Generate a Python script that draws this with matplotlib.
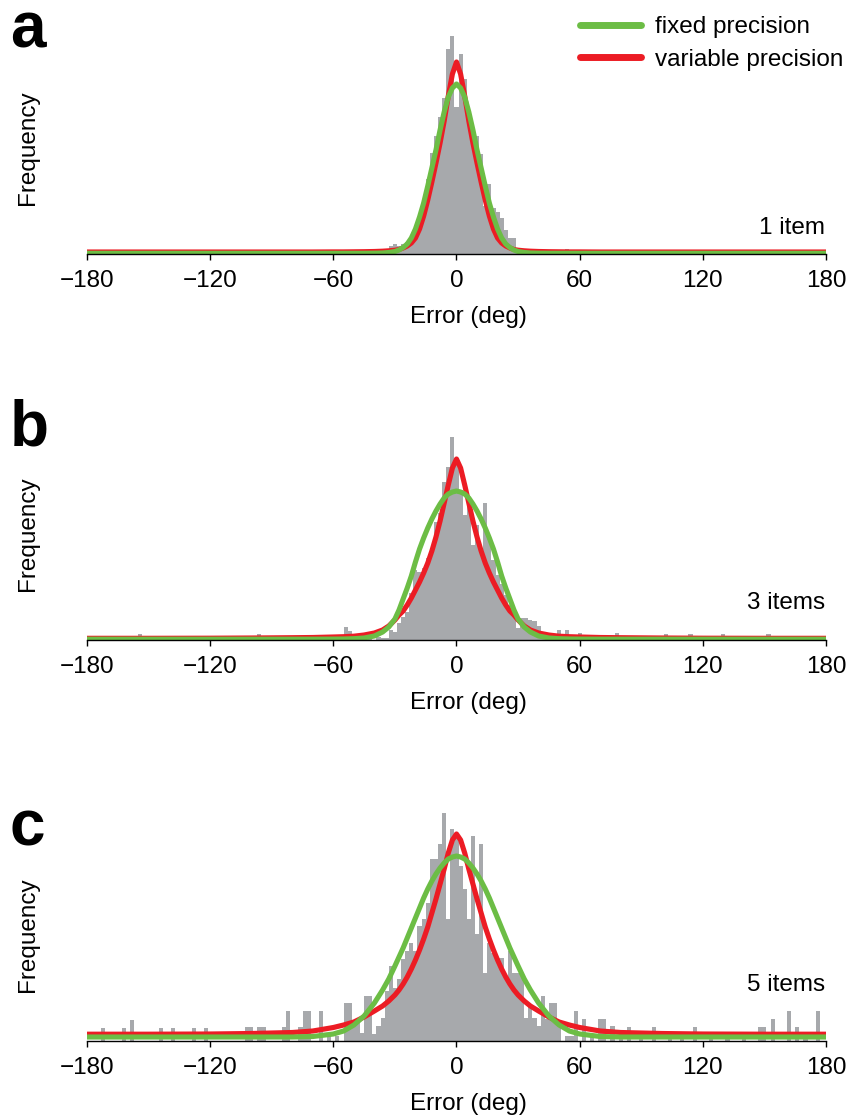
import numpy as np
import matplotlib.pyplot as plt
from matplotlib.lines import Line2D

plt.rcParams['font.family'] = ['Liberation Sans', 'DejaVu Sans']

# histogram bars: bin centre (deg) and height (arbitrary frequency units)
a_bins = [-150, -36, -34, -32, -30, -28, -26, -24, -22, -20, -18, -16, -14, -12, -10, -8, -6, -4, -2,
          0, 2, 4, 6, 8, 10, 12, 14, 16, 18, 20, 22, 24, 26, 28, 30, 32, 34, 54, 100, 160]
a_counts = [1, 2, 3, 8, 10, 8, 10, 12, 16, 22, 36, 52, 75, 101, 118, 137, 156, 205, 218,
            147, 200, 175, 140, 110, 118, 100, 48, 70, 46, 42, 36, 24, 16, 16, 6, 4, 3, 5, 1, 1]

b_bins = [-178, -168, -154, -148, -104, -96, -54, -52, -46, -42, -38, -36, -34, -32, -30, -28, -26,
          -24, -22, -20, -18, -16, -14, -12, -10, -8, -6, -4, -2, 0, 2, 4, 6, 8, 10, 12, 14, 16,
          18, 20, 22, 24, 26, 28, 30, 32, 34, 36, 38, 40, 42, 44, 46, 48, 50, 52, 54, 56, 60, 64,
          78, 94, 96, 102, 114, 130, 136, 140, 152, 158]
b_counts = [2, 2, 6, 2, 2, 6, 13, 9, 3, 2, 3, 2, 2, 10, 8, 17, 23,
            28, 47, 70, 68, 72, 82, 88, 118, 127, 158, 173, 203, 175, 150, 125, 137, 95, 115, 90, 137, 103,
            80, 65, 56, 45, 35, 30, 12, 22, 22, 20, 19, 14, 6, 4, 3, 5, 10, 3, 10, 2, 7, 2,
            7, 3, 3, 6, 6, 6, 4, 3, 6, 2]

c_bins = [-172, -162, -158, -144, -138, -128, -122, -102, -100, -96, -94, -84, -82, -76, -74, -72,
          -66, -62, -58, -54, -52, -50, -48, -46, -44, -42, -40, -38, -36, -34, -32, -30, -28, -26,
          -24, -22, -20, -18, -16, -14, -12, -10, -8, -6, -4, -2, 0, 2, 4, 6, 8, 10, 12, 14, 16,
          18, 20, 22, 24, 26, 28, 30, 32, 34, 36, 38, 40, 42, 44, 46, 48, 50, 54, 56, 58, 62, 66,
          70, 72, 76, 80, 84, 90, 96, 104, 110, 116, 124, 132, 140, 148, 150, 154, 162, 166, 170, 176]
c_counts = [13, 13, 21, 13, 13, 13, 13, 14, 14, 14, 14, 14, 30, 14, 30, 30,
            30, 5, 5, 38, 38, 15, 22, 8, 45, 45, 7, 15, 23, 50, 75, 53, 62, 82,
            90, 98, 90, 115, 122, 138, 182, 182, 197, 228, 122, 212, 208, 175, 152, 122, 205, 107, 197, 68, 98,
            88, 83, 83, 62, 90, 68, 68, 68, 23, 35, 23, 15, 45, 22, 38, 38, 15, 5, 5, 30, 22, 5,
            22, 22, 15, 7, 14, 7, 14, 7, 7, 14, 7, 7, 7, 14, 14, 22, 30, 14, 7, 30]

# model fits (symmetric about 0), read at these offsets
curve_deg = [0, 2, 4, 6, 8, 10, 12, 14, 16, 18, 20, 22, 24, 26, 28, 30,
             33, 36, 40, 45, 50, 55, 60, 70, 80, 100, 120, 150, 180]
a_fixed = [170, 166, 157, 142, 124, 104, 86, 68, 51, 37, 25, 16, 10, 6.5, 4, 2.5,
           1.5, 1, 0.8, 0.7, 0.7, 0.7, 0.7, 0.7, 0.7, 0.7, 0.7, 0.7, 0.7]
a_variable = [192, 180, 158, 133, 111, 91, 72, 54, 38, 25, 16, 11, 8, 6, 4.5, 3.8,
              3.2, 2.8, 2.5, 2.3, 2.2, 2.1, 2.1, 2, 2, 2, 2, 2, 2]
b_fixed = [149, 148, 146, 142, 136, 129, 121, 112, 102, 91, 78, 64, 52, 41, 30, 21,
           13, 8, 4, 2, 1.3, 1, 0.9, 0.8, 0.8, 0.8, 0.8, 0.8, 0.8]
b_variable = [181, 172, 155, 137, 119, 103, 89, 77, 67, 58, 50, 42, 35, 29, 25, 20,
              14, 10, 7, 5, 3.8, 3.3, 3, 2.5, 2.3, 2, 1.8, 1.7, 1.7]
c_fixed = [185, 184, 182, 178, 173, 167, 160, 152, 143, 133, 123, 113, 103, 93, 84, 75,
           62, 51, 38, 25, 16, 10, 7, 4.5, 4, 4, 4, 4, 4]
c_variable = [207, 201, 188, 172, 157, 142, 128, 114, 102, 91, 81, 72, 64, 57, 51, 46,
              40, 35, 30, 24, 19, 16, 13.5, 10, 8.5, 7.5, 7, 6.8, 6.8]

xticks = [-180, -120, -60, 0, 60, 120, 180]

GRAY = '#a7a9ac'
GREEN = '#6cbd45'
RED = '#ec1c24'

W, H = 853, 1115
fig = plt.figure(figsize=(W / 100, H / 100), dpi=100)


def mirror(vals):
    vals = np.array(vals, dtype=float)
    return np.concatenate([vals[::-1], vals[1:]])


x_full = np.concatenate([-np.array(curve_deg[::-1], dtype=float), np.array(curve_deg[1:], dtype=float)])

# letter, item label, axis baseline / letter baseline / item label y (px from top), data
panels = [
    ('a', '1 item', 254, 47, 228, a_bins, a_counts, a_fixed, a_variable),
    ('b', '3 items', 640, 445, 603, b_bins, b_counts, b_fixed, b_variable),
    ('c', '5 items', 1041, 845, 985, c_bins, c_counts, c_fixed, c_variable),
]

for letter, label, base, lbase, ly, bins, counts, fixed, variable in panels:
    ax = fig.add_axes([87 / W, (H - base) / H, 739 / W, 235 / H])
    ax.bar(bins, counts, width=2, color=GRAY, linewidth=0)
    ax.plot(x_full, mirror(variable), color=RED, lw=3.7)
    ax.plot(x_full, mirror(fixed), color=GREEN, lw=3.7)
    ax.set_xlim(-180, 180)
    ax.set_ylim(0, 235)
    for s in ['left', 'right', 'top']:
        ax.spines[s].set_visible(False)
    ax.spines['bottom'].set_linewidth(1.0)
    ax.set_yticks([])
    ax.set_xticks(xticks)
    ax.tick_params(axis='x', length=4.5, width=1.0, labelsize=17.5, pad=7)
    ax.patch.set_alpha(0)

    fig.text(468 / W, 1 - (base + 63) / H, 'Error (deg)', ha='center', va='center', fontsize=17.5)
    fig.text(28 / W, 1 - (base - 106) / H, 'Frequency', ha='center', va='center',
             rotation=90, fontsize=17.5)
    fig.text(825 / W, 1 - ly / H, label, ha='right', va='center', fontsize=17.5)
    fig.text(10 / W, 1 - lbase / H, letter, ha='left', va='baseline',
             fontsize=46, fontweight='bold')

handles = [Line2D([], [], color=GREEN, lw=5, solid_capstyle='round'),
           Line2D([], [], color=RED, lw=5, solid_capstyle='round')]
fig.legend(handles, ['fixed precision', 'variable precision'], loc='upper right',
           bbox_to_anchor=(843 / W, 1 - 16 / H), frameon=False, fontsize=17.5,
           handlelength=2.5, handletextpad=0.55, labelspacing=0.45, borderpad=0, borderaxespad=0)

fig.savefig('out.png', dpi=100)
